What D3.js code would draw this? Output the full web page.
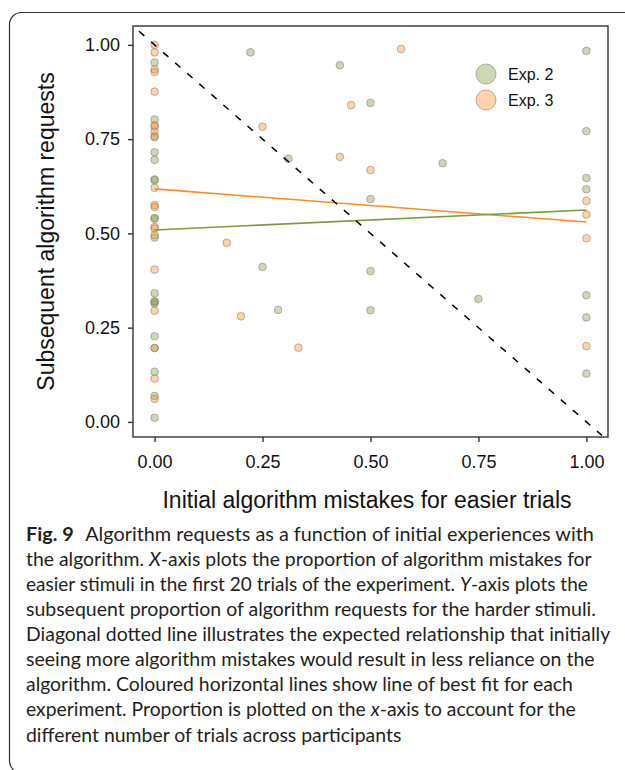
<!DOCTYPE html>
<html>
<head>
<meta charset="utf-8">
<script src="https://cdn.jsdelivr.net/npm/d3@7"></script>
<style>
  html, body { margin: 0; padding: 0; background: #fff; }
  svg { display: block; }
</style>
</head>
<body>
<div id="chart"></div>
<script>
// ---- data ----
const exp2X = [0, 0, 0, 0, 0, 0, 0, 0, 0, 0, 0, 0, 0, 0, 0, 0, 0, 0, 0,
  0.222, 0.429, 0.5, 0.31, 0.667, 0.5, 0.25, 0.5, 0.286, 0.5, 0.75,
  1, 1, 1, 1, 1, 1, 1];
const exp2Y = [0.953, 0.802, 0.758, 0.715, 0.695, 0.643, 0.641, 0.541, 0.539, 0.489,
  0.341, 0.320, 0.318, 0.314, 0.227, 0.196, 0.133, 0.069, 0.011,
  0.980, 0.946, 0.846, 0.698, 0.686, 0.591, 0.411, 0.400, 0.297, 0.296, 0.326,
  0.984, 0.771, 0.647, 0.617, 0.336, 0.277, 0.128];

const exp3X = [0, 0, 0, 0, 0, 0, 0, 0, 0, 0, 0, 0, 0, 0, 0, 0, 0, 0, 0, 0,
  0.571, 0.455, 0.25, 0.429, 0.5, 0.167, 0.2, 0.333,
  1, 1, 1, 1];
const exp3Y = [1.0, 0.98, 0.935, 0.928, 0.876, 0.787, 0.783, 0.770, 0.755, 0.621,
  0.575, 0.570, 0.517, 0.513, 0.495, 0.404, 0.295, 0.196, 0.115, 0.061,
  0.989, 0.840, 0.783, 0.703, 0.668, 0.475, 0.280, 0.197,
  0.586, 0.550, 0.487, 0.201];

// lines of best fit (value at x = 0 and x = 1)
const fitX = [0, 1];
const fit2Y = [0.509, 0.562];
const fit3Y = [0.618, 0.530];

// diagonal reference line y = 1 - x
const refX = [-0.036, 1.036];
const refY = [1.036, -0.036];

const xTicks = [0, 0.25, 0.5, 0.75, 1];
const yTicks = [0, 0.25, 0.5, 0.75, 1];
const legendLabels = ['Exp. 2', 'Exp. 3'];

const captionLines = [
  [['Fig. 9', 'b'], ['Algorithm requests as a function of initial experiences with', 'gap']],
  [['the algorithm. ', 'n'], ['X', 'i'], ['-axis plots the proportion of algorithm mistakes for', 'n']],
  [['easier stimuli in the first 20 trials of the experiment. ', 'n'], ['Y', 'i'], ['-axis plots the', 'n']],
  [['subsequent proportion of algorithm requests for the harder stimuli.', 'n']],
  [['Diagonal dotted line illustrates the expected relationship that initially', 'n']],
  [['seeing more algorithm mistakes would result in less reliance on the', 'n']],
  [['algorithm. Coloured horizontal lines show line of best fit for each', 'n']],
  [['experiment. Proportion is plotted on the ', 'n'], ['x', 'i'], ['-axis to account for the', 'n']],
  [['different number of trials across participants', 'n']]
];
// right end of each caption line in the original
const captionEnds = [583, 592, 588, 596, 610.5, 595, 573, 576, null];

// ---- layout ----
const W = 625, H = 770;
const green = '#7c9a3a', orange = '#ff8c1e';
const axisFont = 'Arial, "Liberation Sans", sans-serif';

const svg = d3.select('#chart').append('svg')
  .attr('width', W).attr('height', H);

// rounded figure box
svg.append('rect')
  .attr('x', 9.5).attr('y', 12.5)
  .attr('width', 700).attr('height', 760.5)
  .attr('rx', 12).attr('ry', 12)
  .attr('fill', 'none').attr('stroke', '#333').attr('stroke-width', 1.2);

const x = d3.scaleLinear().domain([-0.05, 1.05]).range([133, 608]);
const y = d3.scaleLinear().domain([-0.04, 1.05]).range([437, 26]);

// points
const pts = svg.append('g');
function drawPoints(xs, ys, color) {
  pts.append('g').selectAll('circle')
    .data(xs.map((d, i) => [d, ys[i]]))
    .join('circle')
    .attr('cx', d => x(d[0]))
    .attr('cy', d => y(d[1]))
    .attr('r', 3.8)
    .attr('fill', color).attr('fill-opacity', 0.38)
    .attr('stroke', '#8a8a8a').attr('stroke-opacity', 0.65).attr('stroke-width', 1);
}
drawPoints(exp2X, exp2Y, green);
drawPoints(exp3X, exp3Y, orange);

// best fit lines
const line = d3.line().x(d => x(d[0])).y(d => y(d[1]));
svg.append('path')
  .attr('d', line(fitX.map((d, i) => [d, fit3Y[i]])))
  .attr('fill', 'none').attr('stroke', orange).attr('stroke-width', 1.6);
svg.append('path')
  .attr('d', line(fitX.map((d, i) => [d, fit2Y[i]])))
  .attr('fill', 'none').attr('stroke', green).attr('stroke-width', 1.6);

// diagonal
svg.append('path')
  .attr('d', line(refX.map((d, i) => [d, refY[i]])))
  .attr('fill', 'none').attr('stroke', '#000').attr('stroke-width', 1.5)
  .attr('stroke-dasharray', '7,9');

// frame
svg.append('rect')
  .attr('x', x(-0.05)).attr('y', y(1.05))
  .attr('width', x(1.05) - x(-0.05)).attr('height', y(-0.04) - y(1.05))
  .attr('fill', 'none').attr('stroke', '#333').attr('stroke-width', 1.4);

// axes
const xAxis = svg.append('g')
  .attr('transform', `translate(0,${y(-0.04)})`)
  .call(d3.axisBottom(x).tickValues(xTicks).tickFormat(d3.format('.2f')).tickSize(5).tickPadding(13));
const yAxis = svg.append('g')
  .attr('transform', `translate(${x(-0.05)},0)`)
  .call(d3.axisLeft(y).tickValues(yTicks).tickFormat(d3.format('.2f')).tickSize(5).tickPadding(8));
[xAxis, yAxis].forEach(g => {
  g.select('.domain').remove();
  g.selectAll('line').attr('stroke', '#333').attr('stroke-width', 1.4);
  g.selectAll('text').attr('fill', '#111').style('font-family', axisFont).style('font-size', '18px');
});

// axis titles
svg.append('text')
  .attr('x', 367).attr('y', 508)
  .attr('text-anchor', 'middle')
  .style('font-family', axisFont).style('font-size', '23px').attr('fill', '#111')
  .text('Initial algorithm mistakes for easier trials');
svg.append('text')
  .attr('transform', 'translate(54,231.5) rotate(-90)')
  .attr('text-anchor', 'middle')
  .style('font-family', axisFont).style('font-size', '23px').attr('fill', '#111')
  .text('Subsequent algorithm requests');

// legend
const legend = svg.append('g');
[green, orange].forEach((c, i) => {
  const cy = 74 + i * 26;
  legend.append('circle')
    .attr('cx', 486).attr('cy', cy).attr('r', 10)
    .attr('fill', c).attr('fill-opacity', 0.38)
    .attr('stroke', '#8a8a8a').attr('stroke-opacity', 0.65);
  legend.append('text')
    .attr('x', 508).attr('y', cy).attr('dy', '0.36em')
    .style('font-family', axisFont).style('font-size', '16px').attr('fill', '#111')
    .text(legendLabels[i]);
});

// caption
const capX = 26, capY0 = 540.7, capStep = 25.1;
const capNodes = captionLines.map((segs, i) => {
  const t = svg.append('text')
    .attr('transform', `translate(${capX},${capY0 + i * capStep})`)
    .style('font-family', 'Lato, "Open Sans", sans-serif')
    .style('font-size', '19px').attr('fill', '#231f20');
  segs.forEach(([s, k]) => {
    const sp = t.append('tspan').text(s);
    if (k === 'b') sp.style('font-weight', 'bold');
    if (k === 'i') sp.style('font-style', 'italic');
    if (k === 'gap') sp.attr('dx', 11);
  });
  return t;
});
const ratios = [];
capNodes.forEach((t, i) => {
  if (captionEnds[i] == null) return;
  const r = (captionEnds[i] - capX) / t.node().getComputedTextLength();
  ratios.push(r);
  t.attr('transform', `translate(${capX},${capY0 + i * capStep}) scale(${r},1)`);
});
const meanR = d3.mean(ratios);
capNodes.forEach((t, i) => {
  if (captionEnds[i] != null) return;
  t.attr('transform', `translate(${capX},${capY0 + i * capStep}) scale(${meanR},1)`);
});
</script>
</body>
</html>
